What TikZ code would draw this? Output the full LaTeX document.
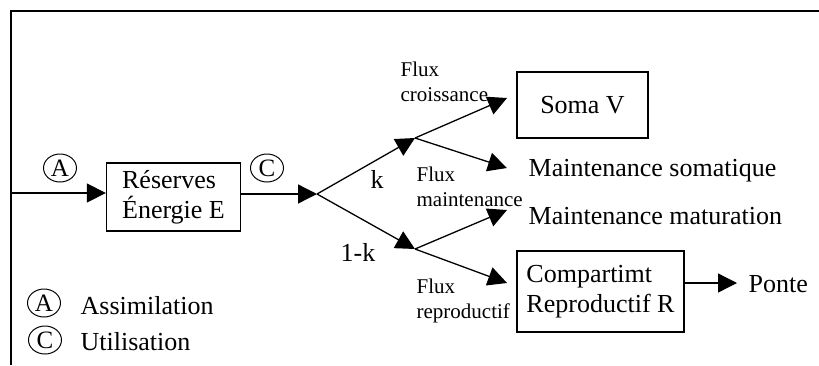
\documentclass[tikz,border=0pt]{standalone}
\usepackage{fontspec}
\setmainfont{Liberation Serif}
\usetikzlibrary{shapes.geometric, arrows.meta, positioning}

\begin{document}
\begin{tikzpicture}[
    x=1pt, y=-1pt,
    line width=1.3pt,
    font=\fontsize{26}{30}\selectfont,
    % Compartment boxes
    box/.style={
        draw,
        rectangle,
        align=left,
        inner sep=0pt
    },
    % Flux arrows
    flow/.style={
        -{Triangle[length=19pt, width=19pt]}
    },
    % Circled process letters
    tag/.style={
        draw,
        ellipse,
        line width=1pt,
        minimum width=33pt,
        minimum height=28pt,
        inner sep=0pt,
        font=\fontsize{25}{26}\selectfont
    },
    % Small flux labels
    small/.style={
        align=left,
        inner sep=0pt,
        anchor=north west,
        font=\fontsize{21}{25}\selectfont
    },
    % Plain texts
    txt/.style={
        inner sep=0pt,
        anchor=base west
    }
]
\useasboundingbox (0,0) rectangle (819,365);

% --- FRAME ---
\draw (819,11) -- (11,11) -- (11,365);

% --- RESERVES ---
\node[box, minimum width=134pt, minimum height=68pt] (Reserves) at (173.5,197) {Réserves\\Énergie E};
\coordinate (Input) at (11,193);
\draw[flow] (Input) -- (Input -| Reserves.west);
\node[tag] (TagA) at (60,168) {A};
\coordinate (Split) at (317,194);
\draw[flow] (Reserves.east |- Split) -- (Split);
\node[tag] (TagC) at (267,168) {C};

% --- SPLIT k / 1-k ---
\coordinate (JoinUp) at (415,138);
\coordinate (JoinDown) at (415,249);
\draw[flow] (Split) -- (JoinUp);
\draw[flow] (Split) -- (JoinDown);
\node[inner sep=0pt, anchor=base] (Kappa) at (377,188) {k};
\node[inner sep=0pt, anchor=base east] (OneMinusK) at (376,261) {1-k};

% --- SOMA BRANCH ---
\node[box, align=center, minimum width=131pt, minimum height=66pt] (Soma) at (582.5,105) {Soma V};
\coordinate (ToSoma) at (507,98);
\draw[flow] (JoinUp) -- (ToSoma);
\node[txt] (MaintSoma) at (528,176) {Maintenance somatique};
\coordinate (ToMaintSoma) at (507,168);
\draw[flow] (JoinUp) -- (ToMaintSoma);
\node[small] (FluxCroiss) at (400,61) {Flux\\croissance};
\node[small] (FluxMaint) at (416,166) {Flux\\maintenance};

% --- REPRODUCTION BRANCH ---
\node[txt] (MaintMatur) at (528,224) {Maintenance maturation};
\coordinate (ToMaintMatur) at (507,210);
\draw[flow] (JoinDown) -- (ToMaintMatur);
\node[box, minimum width=167pt, minimum height=81pt] (Repro) at (600.5,291.5) {Compartimt\\Reproductif R};
\coordinate (ToRepro) at (507,283);
\draw[flow] (JoinDown) -- (ToRepro);
\node[small] (FluxRepro) at (416,278) {Flux\\reproductif};
\node[txt] (Ponte) at (748,292) {Ponte};
\coordinate (ToPonte) at (737,283);
\draw[flow] (Repro.east |- ToPonte) -- (ToPonte);

% --- LEGEND ---
\node[tag] (LegA) at (44,303) {A};
\node[txt] (LegAText) at (80,314) {Assimilation};
\node[tag] (LegC) at (45,340) {C};
\node[txt] (LegCText) at (80,350) {Utilisation};

\end{tikzpicture}
\end{document}
